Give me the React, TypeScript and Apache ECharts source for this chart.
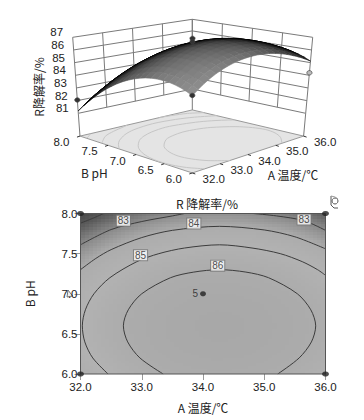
import React, { useEffect, useRef } from "react";
import * as echarts from "echarts";

const tempAxis = [32, 32.2, 32.4, 32.6, 32.8, 33, 33.2, 33.4, 33.6, 33.8, 34, 34.2, 34.4, 34.6, 34.8, 35, 35.2, 35.4, 35.6, 35.8, 36];
const phAxis = [6, 6.1, 6.2, 6.3, 6.4, 6.5, 6.6, 6.7, 6.8, 6.9, 7, 7.1, 7.2, 7.3, 7.4, 7.5, 7.6, 7.7, 7.8, 7.9, 8];
const ph60 = [84.28,84.62,84.93,85.20,85.45,85.66,85.84,85.99,86.11,86.20,86.26,86.29,86.28,86.25,86.18,86.08,85.95,85.79,85.60,85.38,85.12];
const ph61 = [84.49,84.83,85.14,85.41,85.66,85.87,86.05,86.20,86.32,86.41,86.47,86.50,86.49,86.46,86.39,86.29,86.16,86.00,85.81,85.59,85.33];
const ph62 = [84.65,84.99,85.30,85.57,85.82,86.03,86.21,86.36,86.48,86.57,86.63,86.66,86.65,86.62,86.55,86.45,86.32,86.16,85.97,85.75,85.49];
const ph63 = [84.78,85.12,85.43,85.70,85.95,86.16,86.34,86.49,86.61,86.70,86.76,86.79,86.78,86.75,86.68,86.58,86.45,86.29,86.10,85.88,85.62];
const ph64 = [84.87,85.21,85.52,85.79,86.04,86.25,86.43,86.58,86.70,86.79,86.85,86.88,86.87,86.84,86.77,86.67,86.54,86.38,86.19,85.97,85.71];
const ph65 = [84.92,85.26,85.57,85.84,86.09,86.30,86.48,86.63,86.75,86.84,86.90,86.93,86.92,86.89,86.82,86.72,86.59,86.43,86.24,86.02,85.76];
const ph66 = [84.94,85.28,85.59,85.86,86.11,86.32,86.50,86.65,86.77,86.86,86.92,86.95,86.94,86.91,86.84,86.74,86.61,86.45,86.26,86.04,85.78];
const ph67 = [84.92,85.26,85.57,85.84,86.09,86.30,86.48,86.63,86.75,86.84,86.90,86.93,86.92,86.89,86.82,86.72,86.59,86.43,86.24,86.02,85.76];
const ph68 = [84.86,85.20,85.51,85.78,86.03,86.24,86.42,86.57,86.69,86.78,86.84,86.87,86.86,86.83,86.76,86.66,86.53,86.37,86.18,85.96,85.70];
const ph69 = [84.76,85.10,85.41,85.68,85.93,86.14,86.32,86.47,86.59,86.68,86.74,86.77,86.76,86.73,86.66,86.56,86.43,86.27,86.08,85.86,85.60];
const ph70 = [84.62,84.96,85.27,85.54,85.79,86.00,86.18,86.33,86.45,86.54,86.60,86.63,86.62,86.59,86.52,86.42,86.29,86.13,85.94,85.72,85.46];
const ph71 = [84.45,84.79,85.10,85.37,85.62,85.83,86.01,86.16,86.28,86.37,86.43,86.46,86.45,86.42,86.35,86.25,86.12,85.96,85.77,85.55,85.29];
const ph72 = [84.24,84.58,84.89,85.16,85.41,85.62,85.80,85.95,86.07,86.16,86.22,86.25,86.24,86.21,86.14,86.04,85.91,85.75,85.56,85.34,85.08];
const ph73 = [83.99,84.33,84.64,84.91,85.16,85.37,85.55,85.70,85.82,85.91,85.97,86.00,85.99,85.96,85.89,85.79,85.66,85.50,85.31,85.09,84.83];
const ph74 = [83.70,84.04,84.35,84.62,84.87,85.08,85.26,85.41,85.53,85.62,85.68,85.71,85.70,85.67,85.60,85.50,85.37,85.21,85.02,84.80,84.54];
const ph75 = [83.38,83.72,84.03,84.30,84.55,84.76,84.94,85.09,85.21,85.30,85.36,85.39,85.38,85.35,85.28,85.18,85.05,84.89,84.70,84.48,84.22];
const ph76 = [83.01,83.35,83.66,83.93,84.18,84.39,84.57,84.72,84.84,84.93,84.99,85.02,85.01,84.98,84.91,84.81,84.68,84.52,84.33,84.11,83.85];
const ph77 = [82.61,82.95,83.26,83.53,83.78,83.99,84.17,84.32,84.44,84.53,84.59,84.62,84.61,84.58,84.51,84.41,84.28,84.12,83.93,83.71,83.45];
const ph78 = [82.17,82.51,82.82,83.09,83.34,83.55,83.73,83.88,84.00,84.09,84.15,84.18,84.17,84.14,84.07,83.97,83.84,83.68,83.49,83.27,83.01];
const ph79 = [81.70,82.04,82.35,82.62,82.87,83.08,83.26,83.41,83.53,83.62,83.68,83.71,83.70,83.67,83.60,83.50,83.37,83.21,83.02,82.80,82.54];
const ph80 = [81.18,81.52,81.83,82.10,82.35,82.56,82.74,82.89,83.01,83.10,83.16,83.19,83.18,83.15,83.08,82.98,82.85,82.69,82.50,82.28,82.02];
const response = [ph60, ph61, ph62, ph63, ph64, ph65, ph66, ph67, ph68, ph69, ph70, ph71, ph72, ph73, ph74, ph75, ph76, ph77, ph78, ph79, ph80];

const contour82 = [[32, 7.88], [32.2, 7.94], [32.38, 8]];
const contour83Left = [[32, 7.61], [32.5, 7.8], [33, 7.9], [33.5, 7.97], [33.7, 8]];
const contour83Right = [[34.82, 8], [35.2, 7.97], [35.65, 7.91], [36, 7.79]];
const contour84 = [[32, 7.3], [32.25, 7.44], [32.5, 7.55], [33, 7.7], [33.5, 7.79], [34.27, 7.84], [35, 7.795], [35.5, 7.71], [36, 7.56]];
const contour85 = [[32.45, 6], [32.2, 6.2], [32.07, 6.4], [32.03, 6.6], [32.08, 6.8], [32.22, 7], [32.48, 7.2], [32.92, 7.4], [33.28, 7.5], [33.7, 7.57], [34.27, 7.61], [34.8, 7.57], [35.26, 7.5], [35.62, 7.4], [35.87, 7.3], [36, 7.23]];
const contour86 = [[33.35, 6], [32.97, 6.2], [32.77, 6.4], [32.7, 6.6], [32.78, 6.8], [33, 7], [33.47, 7.2], [33.85, 7.27], [34.27, 7.3], [34.7, 7.27], [35.07, 7.2], [35.54, 7], [35.76, 6.8], [35.84, 6.6], [35.77, 6.4], [35.57, 6.2], [35.22, 6]];
const contours = [contour82, contour83Left, contour83Right, contour84, contour85, contour86];
const contourLabels = [[32.7, 7.91, "83"], [35.65, 7.925, "83"], [33.85, 7.875, "84"], [32.98, 7.48, "85"], [34.24, 7.35, "86"]];

const designPoints2D = [[32, 8], [36, 8], [32, 6], [36, 6]];
const centerPoint2D = [[34, 7, "5"]];
// measured responses at the design points [A, pH, R, fill]
const hiddenPoint3D = [36, 8, 82];
const visiblePoints3D = [[32, 8, 82.05, "#333"], [36, 6, 84.2, "#bbb"], [34, 7, 86.9, "#333"], [34, 7, 86.65, "#333"], [32, 6, 84.3, "#333"]];

const zTicks = [81, 82, 83, 84, 85, 86, 87];
const aTicks = [32, 33, 34, 35, 36];
const phTicks = [6, 6.5, 7, 7.5, 8];
const shadeStops = [[81, 66], [82, 92], [83, 138], [84, 172], [85, 178], [86, 172], [87, 168]];

const DIGIT = '"Liberation Sans", sans-serif';
const CJK = '"Noto Sans CJK SC", sans-serif';
const FLOOR_Z = 79.2;
// screen position of the plot box corners: [x, y at z=81, x, y at z=87]
const BOX = {
  front: [192.3, 145.6, 192.3, 54.4],
  right: [305.7, 113.3, 312.7, 37.3],
  left: [78.3, 113.3, 72.7, 37.3],
  back: [192.3, 89, 192.3, 19.3],
};

function project(a: number, ph: number, z: number): [number, number] {
  const u = (a - 32) / 4;
  const v = (ph - 6) / 2;
  const t = (z - 81) / 6;
  const at = (c: number[]) => [c[0] + (c[2] - c[0]) * t, c[1] + (c[3] - c[1]) * t];
  const f = at(BOX.front), r = at(BOX.right), l = at(BOX.left), b = at(BOX.back);
  const mix = (k: number) => (1 - u) * (1 - v) * f[k] + u * (1 - v) * r[k] + (1 - u) * v * l[k] + u * v * b[k];
  return [mix(0), mix(1)];
}

function shade(value: number): string {
  let g = shadeStops[shadeStops.length - 1][1];
  for (let i = 0; i < shadeStops.length - 1; i++) {
    const [v0, g0] = shadeStops[i];
    const [v1, g1] = shadeStops[i + 1];
    if (value <= v1) {
      g = g0 + ((value - v0) / (v1 - v0)) * (g1 - g0);
      break;
    }
  }
  const n = Math.round(g);
  return `rgb(${n},${n},${n})`;
}

function meshGray(area: number): string {
  const s = Math.sqrt(Math.abs(area)) / 2.5;
  const c = Math.max(0, 1 - 0.8 / Math.max(s, 0.01));
  const n = Math.round(255 * c * c);
  return `rgb(${n},${n},${n})`;
}

const LINE = "#7a7a7a";

function frameElements() {
  const children: any[] = [];
  const seg = (p: number[], q: number[], stroke = LINE, lineWidth = 1) =>
    children.push({ type: "line", shape: { x1: p[0], y1: p[1], x2: q[0], y2: q[1] }, style: { stroke, lineWidth } });
  // floor
  children.push({
    type: "polygon",
    shape: { points: [project(32, 6, FLOOR_Z), project(36, 6, FLOOR_Z), project(36, 8, FLOOR_Z), project(32, 8, FLOOR_Z)] },
    style: { fill: "#e4e4e4", stroke: "#999", lineWidth: 1 },
  });
  contours.forEach((c) =>
    children.push({
      type: "polyline",
      shape: { points: c.map((p) => project(p[0], p[1], FLOOR_Z)), smooth: 0.3 },
      style: { stroke: "#c6c6c6", lineWidth: 1, fill: "none" },
    })
  );
  // walls
  zTicks.forEach((z) => {
    seg(project(32, 8, z), project(36, 8, z));
    seg(project(36, 8, z), project(36, 6, z));
  });
  aTicks.forEach((a) => seg(project(a, 8, zTicks[0]), project(a, 8, 87)));
  phTicks.forEach((p) => seg(project(36, p, zTicks[0]), project(36, p, 87)));
  seg(project(32, 8, FLOOR_Z), project(32, 8, 81));
  seg(project(36, 6, FLOOR_Z), project(36, 6, 81));
  seg(project(36, 8, FLOOR_Z), project(36, 8, 81));
  // floor edge ticks and labels
  const label = (text: string, x: number, y: number) =>
    children.push({
      type: "text",
      style: { text, x, y, fill: "#222", font: `11.5px ${DIGIT}`, align: "center", verticalAlign: "middle" },
    });
  phTicks.forEach((p) => {
    const q = project(32, p, FLOOR_Z);
    seg(q, [q[0] - 3, q[1] + 1], "#333");
    label(p.toFixed(1), q[0] - 18.5, q[1] + 6);
  });
  aTicks.forEach((a) => {
    const q = project(a, 6, FLOOR_Z);
    seg(q, [q[0] + 3, q[1] + 1], "#333");
    label(a.toFixed(1), q[0] + 21.5, q[1] + 6);
  });
  zTicks.forEach((z) => {
    const q = project(32, 8, z);
    label(String(z), q[0] - 16, q[1] - 5);
  });
  children.push({
    type: "text",
    style: { text: "B pH", x: 81, y: 172, fill: "#222", font: `12px ${CJK}`, align: "left", verticalAlign: "middle" },
  });
  children.push({
    type: "text",
    style: { text: "A 温度/℃", x: 293, y: 174.5, fill: "#222", font: `12px ${CJK}`, align: "center", verticalAlign: "middle" },
  });
  children.push({
    type: "text",
    x: 38.5,
    y: 87,
    rotation: Math.PI / 2,
    style: { text: "R降解率/%", x: 0, y: 0, fill: "#222", font: `12px ${CJK}`, align: "center", verticalAlign: "middle" },
  });
  return children;
}

const meshCells: number[][] = [];
for (let j = phAxis.length - 2; j >= 0; j--) {
  for (let i = tempAxis.length - 2; i >= 0; i--) meshCells.push([i, j]);
}
const shadeCells: number[][] = [];
for (let j = 0; j < phAxis.length - 1; j++) {
  for (let i = 0; i < tempAxis.length - 1; i++) shadeCells.push([tempAxis[i], phAxis[j], i, j]);
}

function dot3D(p: any[]) {
  const q = project(p[0], p[1], p[2]);
  return {
    type: "ellipse",
    shape: { cx: q[0], cy: q[1], rx: 2.6, ry: 2.2 },
    style: { fill: p[3], stroke: "#444", lineWidth: 0.7 },
  };
}

export default function App() {
  const ref = useRef<HTMLDivElement>(null);
  useEffect(() => {
    document.body.style.margin = "0";
    const chart = echarts.init(ref.current!, undefined, { renderer: "svg" });
    const SUB = 3;
    const option: any = {
      animation: false,
      backgroundColor: "#fff",
      title: {
        text: "R 降解率/%",
        left: 202,
        top: 192,
        textAlign: "center",
        textStyle: { fontFamily: CJK, fontSize: 12, fontWeight: "normal", color: "#222" },
      },
      grid: { left: 80.5, top: 213.5, width: 245, height: 160.5, show: true, borderColor: "#555", borderWidth: 1, backgroundColor: "transparent", z: 5 },
      xAxis: {
        type: "value",
        min: 32,
        max: 36,
        interval: 1,
        name: "A 温度/℃",
        nameLocation: "center",
        nameGap: 27,
        nameTextStyle: { fontFamily: CJK, fontSize: 12, color: "#222" },
        axisLine: { show: false },
        axisTick: { length: 6, lineStyle: { color: "#999" } },
        axisLabel: { margin: 7, fontFamily: DIGIT, fontSize: 11.5, color: "#222", formatter: (v: number) => v.toFixed(1) },
        splitLine: { show: false },
      },
      yAxis: {
        type: "value",
        min: 6,
        max: 8,
        interval: 0.5,
        name: "B pH",
        nameLocation: "center",
        nameGap: 45,
        nameTextStyle: { fontFamily: CJK, fontSize: 12, color: "#222" },
        axisLine: { show: false },
        axisTick: { length: 6, lineStyle: { color: "#999" } },
        axisLabel: { margin: 3, fontFamily: DIGIT, fontSize: 11.5, color: "#222", formatter: (v: number) => v.toFixed(1) },
        splitLine: { show: false },
      },
      graphic: [
        { type: "circle", shape: { cx: 335, cy: 201, r: 3 }, style: { fill: "none", stroke: "#555", lineWidth: 1 } },
        { type: "polyline", shape: { points: [[331, 196], [331, 205], [334, 208], [338, 208]] }, style: { fill: "none", stroke: "#555", lineWidth: 1 } },
        { type: "polyline", shape: { points: [[331, 196], [335, 197], [338, 199]] }, style: { fill: "none", stroke: "#999", lineWidth: 1 } },
        { type: "polygon", shape: { points: [[68, 290], [72.5, 296], [67, 297]] }, style: { fill: "#eee", stroke: "#777", lineWidth: 1 } },
      ],
      series: [
        {
          type: "custom",
          coordinateSystem: "cartesian2d",
          silent: true,
          clip: true,
          z: 1,
          data: shadeCells,
          encode: { x: 0, y: 1 },
          renderItem: (params: any, api: any) => {
            const [, , i, j] = shadeCells[params.dataIndex];
            const tl = api.coord([tempAxis[i], phAxis[j + 1]]);
            const br = api.coord([tempAxis[i + 1], phAxis[j]]);
            const v00 = response[j][i], v10 = response[j][i + 1], v01 = response[j + 1][i], v11 = response[j + 1][i + 1];
            const children: any[] = [];
            for (let a = 0; a < SUB; a++) {
              for (let b = 0; b < SUB; b++) {
                const x0 = Math.round(tl[0] + ((br[0] - tl[0]) * a) / SUB);
                const x1 = Math.round(tl[0] + ((br[0] - tl[0]) * (a + 1)) / SUB);
                const y0 = Math.round(tl[1] + ((br[1] - tl[1]) * b) / SUB);
                const y1 = Math.round(tl[1] + ((br[1] - tl[1]) * (b + 1)) / SUB);
                const u = (a + 0.5) / SUB;
                const w = 1 - (b + 0.5) / SUB;
                const val = (1 - u) * (1 - w) * v00 + u * (1 - w) * v10 + (1 - u) * w * v01 + u * w * v11;
                children.push({ type: "rect", shape: { x: x0, y: y0, width: x1 - x0, height: y1 - y0 }, style: { fill: shade(val) } });
              }
            }
            return { type: "group", children };
          },
        },
        ...contours.map((c) => ({
          type: "line",
          data: c,
          smooth: 0.3,
          showSymbol: false,
          silent: true,
          z: 3,
          lineStyle: { color: "#3c3c3c", width: 1 },
        })),
        {
          type: "scatter",
          data: contourLabels,
          symbolSize: 0,
          silent: true,
          z: 4,
          label: {
            show: true,
            position: "inside",
            formatter: (p: any) => p.data[2],
            fontFamily: DIGIT,
            fontSize: 10,
            color: "#222",
            backgroundColor: "#fff",
            borderColor: "#777",
            borderWidth: 1,
            padding: [0, 1],
          },
        },
        {
          type: "scatter",
          data: designPoints2D,
          symbol: "circle",
          symbolSize: [7, 5],
          silent: true,
          clip: false,
          z: 6,
          itemStyle: { color: "#222" },
        },
        {
          type: "scatter",
          data: centerPoint2D,
          symbolSize: [6, 5],
          silent: true,
          clip: false,
          z: 6,
          itemStyle: { color: "#222" },
          label: { show: true, position: "left", distance: 2, formatter: (p: any) => p.data[2], fontFamily: DIGIT, fontSize: 10, color: "#222" },
        },
        {
          type: "custom",
          coordinateSystem: "none",
          silent: true,
          z: 2,
          data: [[0]],
          renderItem: () => ({ type: "group", children: [...frameElements(), dot3D([...hiddenPoint3D, "#333"])] }),
        },
        {
          type: "custom",
          coordinateSystem: "none",
          silent: true,
          z: 3,
          data: meshCells,
          renderItem: (params: any) => {
            const [i, j] = meshCells[params.dataIndex];
            const pts = [
              project(tempAxis[i], phAxis[j], response[j][i]),
              project(tempAxis[i + 1], phAxis[j], response[j][i + 1]),
              project(tempAxis[i + 1], phAxis[j + 1], response[j + 1][i + 1]),
              project(tempAxis[i], phAxis[j + 1], response[j + 1][i]),
            ];
            let area = 0;
            for (let k = 0; k < 4; k++) {
              const p = pts[k], q = pts[(k + 1) % 4];
              area += p[0] * q[1] - q[0] * p[1];
            }
            const color = meshGray(area / 2);
            return { type: "polygon", shape: { points: pts }, style: { fill: color, stroke: color, lineWidth: 0.6 } };
          },
        },
        {
          type: "custom",
          coordinateSystem: "none",
          silent: true,
          z: 4,
          data: visiblePoints3D,
          renderItem: (params: any) => dot3D(visiblePoints3D[params.dataIndex]),
        },
      ],
    };
    chart.setOption(option);
    return () => chart.dispose();
  }, []);
  return <div ref={ref} style={{ width: 364, height: 420, position: "absolute", left: 0, top: 0 }} />;
}
